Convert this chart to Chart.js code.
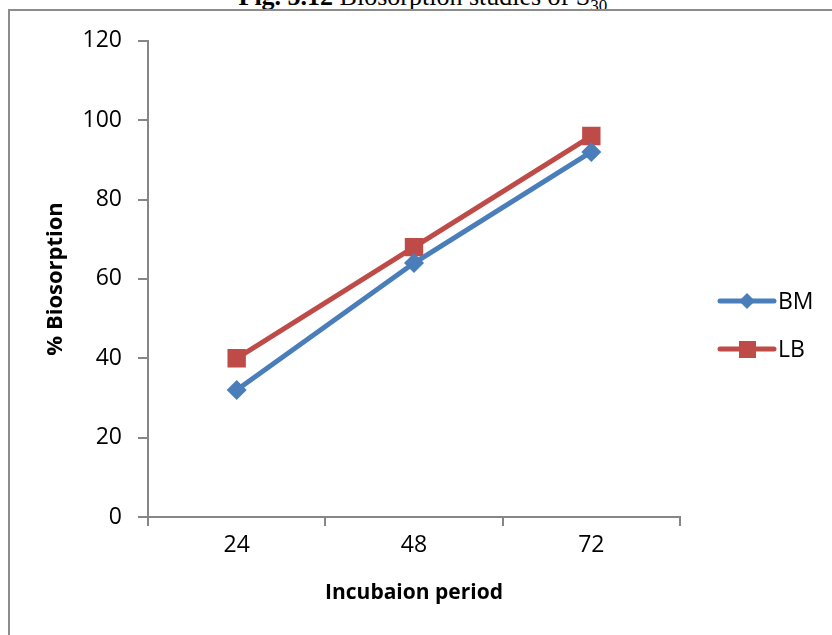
<!DOCTYPE html>
<html lang="en">
<head>
  <meta charset="UTF-8">
  <title>Biosorption studies</title>
  <script src="https://cdn.jsdelivr.net/npm/chart.js"></script>
  <style>
    html, body { margin: 0; padding: 0; background: #fff; overflow: hidden; }
    body { width: 832px; height: 635px; position: relative; }
    .fig-title {
      position: absolute; left: 0; width: 850px; top: -16px;
      text-align: center; font-family: "Liberation Serif", serif;
      font-size: 26px; line-height: 26px; color: #000; white-space: nowrap;
    }
    .fig-title sub { font-size: 17px; line-height: 0; }
    .frame {
      position: absolute; left: 8px; top: 9px; right: -10px; bottom: -10px;
      border-left: 2px solid #8c8c8c; border-top: 2px solid #8c8c8c;
    }
    .chart-box { position: absolute; left: 10px; top: 11px; width: 822px; height: 624px; }
  </style>
</head>
<body>
<div class="fig-title"><b>Fig. 5.12</b> Biosorption studies of S<sub>30.</sub></div>
<div class="frame"></div>
<div class="chart-box">
  <canvas id="bioChart"></canvas>
</div>

<script>
  const periods = ['24', '48', '72'];
  const bmValues = [32, 64, 92];
  const lbValues = [40, 68, 96];
  const seriesNames = ['BM', 'LB'];

  const blue = '#4a7ebb';
  const red = '#be4b48';
  const axisGray = '#868686';

  // legend with line + marker, like the office style one
  const sideLegend = {
    id: 'sideLegend',
    afterDraw(chart) {
      const ctx = chart.ctx;
      const items = [
        { name: seriesNames[0], color: blue, shape: 'diamond', y: 290 },
        { name: seriesNames[1], color: red, shape: 'square', y: 338 }
      ];
      ctx.save();
      items.forEach(it => {
        ctx.strokeStyle = it.color;
        ctx.fillStyle = it.color;
        ctx.lineWidth = 5;
        ctx.lineCap = 'round';
        ctx.beginPath();
        ctx.moveTo(710, it.y);
        ctx.lineTo(764, it.y);
        ctx.stroke();
        ctx.beginPath();
        if (it.shape === 'diamond') {
          ctx.moveTo(737, it.y - 8);
          ctx.lineTo(745, it.y);
          ctx.lineTo(737, it.y + 8);
          ctx.lineTo(729, it.y);
          ctx.closePath();
        } else {
          ctx.rect(729, it.y - 8, 17, 17);
        }
        ctx.fill();
        ctx.fillStyle = '#000';
        ctx.font = '23px "Open Sans"';
        ctx.textBaseline = 'middle';
        ctx.fillText(it.name, 768, it.y + 1);
      });
      ctx.restore();
    }
  };

  new Chart(document.getElementById('bioChart'), {
    type: 'line',
    data: {
      labels: periods,
      datasets: [{
        label: seriesNames[0],
        data: bmValues,
        borderColor: blue,
        backgroundColor: blue,
        borderWidth: 5,
        pointStyle: 'rectRot',
        pointRadius: 10,
        pointHoverRadius: 10,
        pointBorderWidth: 0
      }, {
        label: seriesNames[1],
        data: lbValues,
        borderColor: red,
        backgroundColor: red,
        borderWidth: 5,
        pointStyle: 'rect',
        pointRadius: 13,
        pointHoverRadius: 13,
        pointBorderWidth: 0
      }]
    },
    options: {
      responsive: true,
      maintainAspectRatio: false,
      animation: false,
      events: [],
      layout: { padding: { left: 29, top: 28, right: 152, bottom: 25 } },
      plugins: { legend: { display: false }, tooltip: { enabled: false } },
      scales: {
        x: {
          offset: true,
          grid: { offset: true, drawOnChartArea: false, drawTicks: true, tickLength: 9, color: axisGray, lineWidth: 2 },
          border: { display: true, color: axisGray, width: 2 },
          ticks: { color: '#000', font: { family: 'Open Sans', size: 23 }, padding: 6 },
          title: { display: true, text: 'Incubaion period', color: '#000', font: { family: 'Open Sans', size: 21, weight: 'bold' }, padding: { top: 10 } },
          afterFit(scale) { scale.height = 93; }
        },
        y: {
          min: 0, max: 120,
          ticks: { stepSize: 20, color: '#000', font: { family: 'Open Sans', size: 23 }, padding: 16 },
          grid: { drawOnChartArea: false, drawTicks: true, tickLength: 10, color: axisGray, lineWidth: 2 },
          border: { display: true, color: axisGray, width: 2 },
          title: { display: true, text: '% Biosorption', color: '#000', font: { family: 'Open Sans', size: 22, weight: 'bold' } },
          afterFit(scale) { scale.width = 109; }
        }
      }
    },
    plugins: [sideLegend]
  });
</script>
</body>
</html>
